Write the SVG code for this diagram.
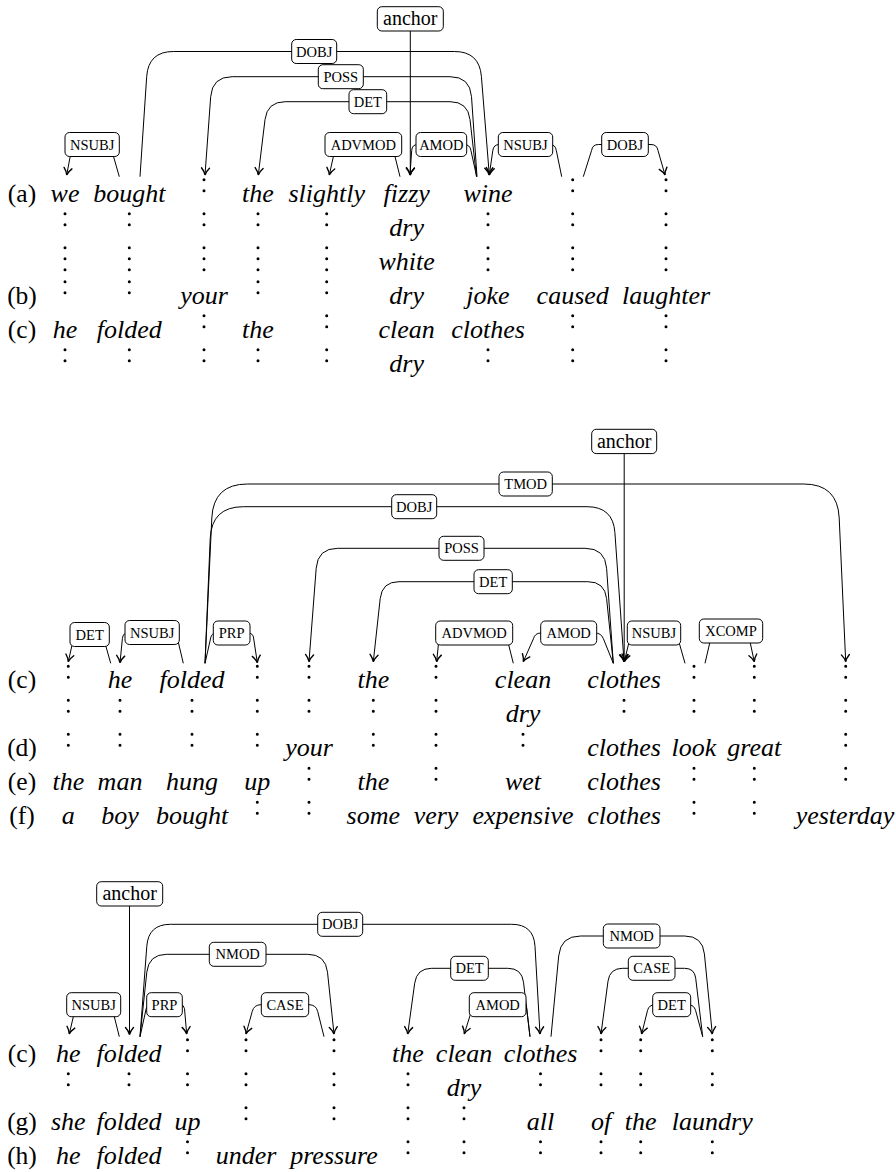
<svg xmlns="http://www.w3.org/2000/svg" width="896" height="1172" viewBox="0 0 896 1172">
<style>
.w{font-family:"Liberation Serif",serif;font-style:italic;font-size:26px;text-anchor:middle;fill:#000}
.lab{font-family:"Liberation Serif",serif;font-size:25.5px;text-anchor:middle;fill:#000}
.box rect{fill:#fff;stroke:#000;stroke-width:1}
.box text{font-family:"Liberation Serif",serif;font-size:14.5px;text-anchor:middle;fill:#000}
.box.anc text{font-size:20px}
.e{fill:none;stroke:#000;stroke-width:1;marker-end:url(#ar)}
.vd{fill:none;stroke:#000;stroke-width:3;stroke-linecap:round;stroke-dasharray:0 11}
</style>
<defs>
<marker id="ar" viewBox="-9 -6 11 12" refX="0" refY="0" markerWidth="11" markerHeight="12" markerUnits="userSpaceOnUse" orient="auto">
<path d="M-7,-4 C-4.5,-1.8 -1.8,-0.4 0,0 C-1.8,0.4 -4.5,1.8 -7,4" fill="none" stroke="#000" stroke-width="1.4" stroke-linecap="round"/>
</marker>
</defs>
<rect width="896" height="1172" fill="#fff"/>

<g id="connectors">
<path class="e" d="M119.3,176.7 L111.8,150.5 Q111,144.5 105,144.5 L78,144.5 Q72,144.5 71.3,150.5 L66.7,175"/>
<path class="e" d="M140,176.7 L146.7,76.5 Q148.4,51.5 173.4,51.5 L454.4,51.5 Q479.4,51.5 481.4,76.4 L489.3,175"/>
<path class="e" d="M477,176.7 L471.5,96.7 Q470.1,76.7 450.1,76.7 L232.2,76.7 Q212.2,76.7 210.7,96.6 L205,175"/>
<path class="e" d="M476.5,176.7 L470,119.6 Q468,101.7 450,101.7 L285.2,101.7 Q267.2,101.7 265,119.6 L258.3,175"/>
<path class="e" d="M400,176.7 L392,144.5 L336,144.5 L329.3,175"/>
<path class="e" d="M476.7,176.7 L470.9,150.4 Q470,144.5 464,144.5 L418,144.5 Q412,144.5 411.7,150.5 L410,175"/>
<path class="e" d="M561.7,176.7 L556.3,150.4 Q555.5,144.5 549.5,144.5 L499.5,144.5 Q493.5,144.5 492.8,150.5 L489.3,175"/>
<path class="e" d="M583.3,176.7 L591.6,150.4 Q592.5,144.5 598.5,144.5 L651,144.5 Q657,144.5 658,150.5 L665,175"/>
<path class="e" d="M410.3,31 L410.3,175"/>

<path class="e" d="M110.7,663.3 L102.6,634.5 L74.4,634.5 L68.3,661.7"/>
<path class="e" d="M183.3,663.3 L176,632.5 L129,632.5 Q123,632.5 122.4,638.5 L120,662.7"/>
<path class="e" d="M205,663.3 L210.7,637.9 Q211.5,633 216.5,633 L248,633 Q253,633 253.6,638 L257.3,662.7"/>
<path class="e" d="M205,663.3 L211.8,518 Q213.4,484 247.4,484 L803.7,484 Q837.7,484 839.2,518 L845.7,661.7"/>
<path class="e" d="M205,663.3 L210.2,538.7 Q211.5,506.7 243.5,506.7 L587.1,506.7 Q613.1,506.7 614.9,532.6 L624,661.7"/>
<path class="e" d="M613.3,663.3 L606.6,568.3 Q605.2,548.3 585.2,548.3 L337.7,548.3 Q317.7,548.3 316.2,568.2 L309,661.7"/>
<path class="e" d="M613.3,663.3 L606.6,598.6 Q604.8,581.7 587.8,581.7 L399,581.7 Q382,581.7 380.2,598.6 L373.3,661.7"/>
<path class="e" d="M513.3,663.3 L505.7,633 L439.5,633 L436.7,661.7"/>
<path class="e" d="M613.3,663.3 L603.3,638.5 Q601,633 595,633 L541,633 Q535,633 533.4,638.8 L523.3,661.7"/>
<path class="e" d="M685,663.3 L676.4,633 L631.2,633 L624.3,661.7"/>
<path class="e" d="M705,663.3 L712.5,631 L747.7,631 L754.3,661.7"/>
<path class="e" d="M624.2,453.3 L624.2,661.7"/>

<path class="e" d="M119.3,1036.7 L111.3,1004.7 L76.1,1004.7 L69.3,1034"/>
<path class="e" d="M140,1036.7 L146.2,1008.6 Q147,1004.7 151,1004.7 L180,1004.7 Q184,1004.7 184.5,1008.7 L186.7,1034"/>
<path class="e" d="M140,1036.7 L146.8,946.2 Q148.4,924.3 170.4,924.3 L511.7,924.3 Q533.7,924.3 535,946.3 L540,1034"/>
<path class="e" d="M140,1036.7 L146.8,972.2 Q148.7,954.3 166.7,954.3 L307.6,954.3 Q325.6,954.3 327.5,972.2 L334,1034"/>
<path class="e" d="M324,1036.7 L317.7,1011.5 Q316,1004.7 309,1004.7 L261,1004.7 Q254,1004.7 252.2,1011.5 L246,1034"/>
<path class="e" d="M530,1036.7 L523.5,982.2 Q521.8,968.3 507.8,968.3 L431.7,968.3 Q416.7,968.3 414.7,983.2 L407.7,1034"/>
<path class="e" d="M530,1036.7 L526.3,1004.7 L473.4,1004.7 L464.3,1034"/>
<path class="e" d="M551,1036.7 L558.7,955.9 Q560.6,936 580.6,936 L684.6,936 Q702.6,936 704.4,953.9 L712.3,1034"/>
<path class="e" d="M702.7,1036.7 L695.7,978.2 Q694.5,968.3 684.5,968.3 L622.7,968.3 Q609.7,968.3 608,981.2 L601,1034"/>
<path class="e" d="M702.7,1036.7 L695.6,1010.5 Q694,1004.7 688,1004.7 L655,1004.7 Q649,1004.7 647.5,1010.5 L641.7,1034"/>
<path class="e" d="M129.5,906 L129.5,1034.5"/>
</g>

<g id="vdots">
<path class="vd" d="M65 213.7v22M65 247.7v22M65 281.7v22M65 349.7v22"/>
<path class="vd" d="M129.3 213.7v22M129.3 247.7v22M129.3 281.7v22M129.3 349.7v22"/>
<path class="vd" d="M204 179.7v22M204 213.7v22M204 247.7v22M204 315.7v22M204 349.7v22"/>
<path class="vd" d="M258 213.7v22M258 247.7v22M258 281.7v22M258 349.7v22"/>
<path class="vd" d="M326.7 213.7v22M326.7 247.7v22M326.7 281.7v22M326.7 315.7v22M326.7 349.7v22"/>
<path class="vd" d="M488 213.7v22M488 247.7v22M488 349.7v22"/>
<path class="vd" d="M572.7 179.7v22M572.7 213.7v22M572.7 247.7v22M572.7 315.7v22M572.7 349.7v22"/>
<path class="vd" d="M666 179.7v22M666 213.7v22M666 247.7v22M666 315.7v22M666 349.7v22"/>

<path class="vd" d="M68.3 666.3v22M68.3 700.3v22M68.3 734.3v22"/>
<path class="vd" d="M120 700.3v22M120 734.3v22"/>
<path class="vd" d="M192 700.3v22M192 734.3v22"/>
<path class="vd" d="M257.3 666.3v22M257.3 700.3v22M257.3 734.3v22M257.3 802.3v22"/>
<path class="vd" d="M309 666.3v22M309 700.3v22M309 768.3v22M309 802.3v22"/>
<path class="vd" d="M373.3 700.3v22M373.3 734.3v22"/>
<path class="vd" d="M436 666.3v22M436 700.3v22M436 734.3v22M436 768.3v22"/>
<path class="vd" d="M523 734.3v22"/>
<path class="vd" d="M624 700.3v22"/>
<path class="vd" d="M694 666.3v22M694 700.3v22M694 768.3v22M694 802.3v22"/>
<path class="vd" d="M754.3 666.3v22M754.3 700.3v22M754.3 768.3v22M754.3 802.3v22"/>
<path class="vd" d="M845.7 666.3v22M845.7 700.3v22M845.7 734.3v22M845.7 768.3v22"/>

<path class="vd" d="M68.3 1073.7v22"/>
<path class="vd" d="M129 1073.7v22"/>
<path class="vd" d="M187.5 1039.7v22M187.5 1073.7v22M187.5 1141.7v22"/>
<path class="vd" d="M246 1039.7v22M246 1073.7v22M246 1107.7v22"/>
<path class="vd" d="M334 1039.7v22M334 1073.7v22M334 1107.7v22"/>
<path class="vd" d="M408 1073.7v22M408 1107.7v22M408 1141.7v22"/>
<path class="vd" d="M464 1107.7v22M464 1141.7v22"/>
<path class="vd" d="M540.5 1073.7v22M540.5 1141.7v22"/>
<path class="vd" d="M601 1039.7v22M601 1073.7v22M601 1141.7v22"/>
<path class="vd" d="M640.7 1039.7v22M640.7 1073.7v22M640.7 1141.7v22"/>
<path class="vd" d="M712.3 1039.7v22M712.3 1073.7v22M712.3 1141.7v22"/>
</g>

<g id="top-anchor" class="box anc"><rect x="377.3" y="6.7" width="66" height="24.3" rx="4.5"/><text x="410.3" y="25">anchor</text></g>
<g id="top-dobj" class="box"><rect x="291.7" y="39.5" width="45" height="24" rx="4.5"/><text x="314.2" y="56.5">DOBJ</text></g>
<g id="top-poss" class="box"><rect x="318.3" y="64.7" width="45" height="24" rx="4.5"/><text x="340.8" y="81.7">POSS</text></g>
<g id="top-det" class="box"><rect x="349" y="89.7" width="37.7" height="24" rx="4.5"/><text x="367.8" y="106.7">DET</text></g>
<g id="top-nsubj1" class="box"><rect x="65" y="132.5" width="54.3" height="24" rx="4.5"/><text x="92.2" y="149.5">NSUBJ</text></g>
<g id="top-advmod" class="box"><rect x="325" y="132.5" width="76.7" height="24" rx="4.5"/><text x="363.3" y="149.5">ADVMOD</text></g>
<g id="top-amod" class="box"><rect x="416" y="132.5" width="50.7" height="24" rx="4.5"/><text x="441.3" y="149.5">AMOD</text></g>
<g id="top-nsubj2" class="box"><rect x="498.3" y="132.5" width="54.4" height="24" rx="4.5"/><text x="525.5" y="149.5">NSUBJ</text></g>
<g id="top-dobj2" class="box"><rect x="601.7" y="132.5" width="46.6" height="24" rx="4.5"/><text x="625" y="149.5">DOBJ</text></g>

<g id="mid-anchor" class="box anc"><rect x="591.7" y="429.3" width="65" height="24.3" rx="4.5"/><text x="624.2" y="447.6">anchor</text></g>
<g id="mid-tmod" class="box"><rect x="499" y="472" width="53.3" height="24" rx="4.5"/><text x="525.7" y="489">TMOD</text></g>
<g id="mid-dobj" class="box"><rect x="391.7" y="494.7" width="45" height="24" rx="4.5"/><text x="414.2" y="511.7">DOBJ</text></g>
<g id="mid-poss" class="box"><rect x="439" y="536.3" width="45" height="24" rx="4.5"/><text x="461.5" y="553.3">POSS</text></g>
<g id="mid-det2" class="box"><rect x="474" y="569.7" width="38.3" height="24" rx="4.5"/><text x="493.2" y="586.7">DET</text></g>
<g id="mid-det1" class="box"><rect x="70" y="622.5" width="39.3" height="24" rx="4.5"/><text x="89.7" y="639.5">DET</text></g>
<g id="mid-nsubj1" class="box"><rect x="125" y="620.5" width="54.3" height="24" rx="4.5"/><text x="152.2" y="637.5">NSUBJ</text></g>
<g id="mid-prp" class="box"><rect x="213.3" y="621" width="36.7" height="24" rx="4.5"/><text x="231.7" y="638">PRP</text></g>
<g id="mid-advmod" class="box"><rect x="435.7" y="621" width="77" height="24" rx="4.5"/><text x="474.2" y="638">ADVMOD</text></g>
<g id="mid-amod" class="box"><rect x="540.7" y="621" width="56" height="24" rx="4.5"/><text x="568.7" y="638">AMOD</text></g>
<g id="mid-nsubj2" class="box"><rect x="627.3" y="621" width="53.4" height="24" rx="4.5"/><text x="654" y="638">NSUBJ</text></g>
<g id="mid-xcomp" class="box"><rect x="699.3" y="619" width="63.4" height="24" rx="4.5"/><text x="731" y="636">XCOMP</text></g>

<g id="bot-anchor" class="box anc"><rect x="96.7" y="881.7" width="66" height="24.3" rx="4.5"/><text x="129.7" y="900">anchor</text></g>
<g id="bot-dobj" class="box"><rect x="317.7" y="912.3" width="45" height="24" rx="4.5"/><text x="340.2" y="929.3">DOBJ</text></g>
<g id="bot-nmod1" class="box"><rect x="209.3" y="942.3" width="56.7" height="24" rx="4.5"/><text x="237.7" y="959.3">NMOD</text></g>
<g id="bot-nmod2" class="box"><rect x="603.3" y="924" width="56.7" height="24" rx="4.5"/><text x="631.7" y="941">NMOD</text></g>
<g id="bot-det1" class="box"><rect x="450.7" y="956.3" width="37.6" height="24" rx="4.5"/><text x="469.5" y="973.3">DET</text></g>
<g id="bot-case2" class="box"><rect x="628.3" y="956.3" width="46.7" height="24" rx="4.5"/><text x="651.7" y="973.3">CASE</text></g>
<g id="bot-nsubj" class="box"><rect x="66.7" y="992.7" width="54" height="24" rx="4.5"/><text x="93.7" y="1009.7">NSUBJ</text></g>
<g id="bot-prp" class="box"><rect x="146.7" y="992.7" width="35.6" height="24" rx="4.5"/><text x="164.5" y="1009.7">PRP</text></g>
<g id="bot-case1" class="box"><rect x="261.3" y="992.7" width="47.4" height="24" rx="4.5"/><text x="285" y="1009.7">CASE</text></g>
<g id="bot-amod" class="box"><rect x="469.3" y="992.7" width="56.7" height="24" rx="4.5"/><text x="497.7" y="1009.7">AMOD</text></g>
<g id="bot-det2" class="box"><rect x="652.7" y="992.7" width="38" height="24" rx="4.5"/><text x="671.7" y="1009.7">DET</text></g>

<g id="labels">
<text class="lab" x="22" y="201.7">(a)</text>
<text class="lab" x="22" y="303.7">(b)</text>
<text class="lab" x="22" y="337.7">(c)</text>
<text class="lab" x="22" y="688.3">(c)</text>
<text class="lab" x="22" y="756.3">(d)</text>
<text class="lab" x="22" y="790.3">(e)</text>
<text class="lab" x="22" y="824.3">(f)</text>
<text class="lab" x="22" y="1061.7">(c)</text>
<text class="lab" x="22" y="1129.7">(g)</text>
<text class="lab" x="22" y="1163.7">(h)</text>
</g>

<g id="words-top">
<g id="t-we"><text class="w" x="65" y="201.7">we</text></g>
<g id="t-bought"><text class="w" x="129.3" y="201.7">bought</text></g>
<g id="t-the1"><text class="w" x="258" y="201.7">the</text></g>
<g id="t-slightly"><text class="w" x="326.7" y="201.7">slightly</text></g>
<g id="t-fizzy"><text class="w" x="406.7" y="201.7">fizzy</text></g>
<g id="t-wine"><text class="w" x="488" y="201.7">wine</text></g>
<g id="t-dry1"><text class="w" x="406.7" y="235.7">dry</text></g>
<g id="t-white"><text class="w" x="406.7" y="269.7">white</text></g>
<g id="t-your"><text class="w" x="204" y="303.7">your</text></g>
<g id="t-dry2"><text class="w" x="406.7" y="303.7">dry</text></g>
<g id="t-joke"><text class="w" x="488" y="303.7">joke</text></g>
<g id="t-caused"><text class="w" x="572.7" y="303.7">caused</text></g>
<g id="t-laughter"><text class="w" x="666" y="303.7">laughter</text></g>
<g id="t-he"><text class="w" x="65" y="337.7">he</text></g>
<g id="t-folded"><text class="w" x="129.3" y="337.7">folded</text></g>
<g id="t-the2"><text class="w" x="258" y="337.7">the</text></g>
<g id="t-clean"><text class="w" x="406.7" y="337.7">clean</text></g>
<g id="t-clothes"><text class="w" x="488" y="337.7">clothes</text></g>
<g id="t-dry3"><text class="w" x="406.7" y="371.7">dry</text></g>
</g>

<g id="words-mid">
<g id="m-he"><text class="w" x="120" y="688.3">he</text></g>
<g id="m-folded"><text class="w" x="192" y="688.3">folded</text></g>
<g id="m-the1"><text class="w" x="373.3" y="688.3">the</text></g>
<g id="m-clean"><text class="w" x="523" y="688.3">clean</text></g>
<g id="m-clothes1"><text class="w" x="624" y="688.3">clothes</text></g>
<g id="m-dry"><text class="w" x="523" y="722.3">dry</text></g>
<g id="m-your"><text class="w" x="309" y="756.3">your</text></g>
<g id="m-clothes2"><text class="w" x="624" y="756.3">clothes</text></g>
<g id="m-look"><text class="w" x="694" y="756.3">look</text></g>
<g id="m-great"><text class="w" x="754.3" y="756.3">great</text></g>
<g id="m-the2"><text class="w" x="68.3" y="790.3">the</text></g>
<g id="m-man"><text class="w" x="120" y="790.3">man</text></g>
<g id="m-hung"><text class="w" x="192" y="790.3">hung</text></g>
<g id="m-up"><text class="w" x="257.3" y="790.3">up</text></g>
<g id="m-the3"><text class="w" x="373.3" y="790.3">the</text></g>
<g id="m-wet"><text class="w" x="523" y="790.3">wet</text></g>
<g id="m-clothes3"><text class="w" x="624" y="790.3">clothes</text></g>
<g id="m-a"><text class="w" x="68.3" y="824.3">a</text></g>
<g id="m-boy"><text class="w" x="120" y="824.3">boy</text></g>
<g id="m-bought"><text class="w" x="192" y="824.3">bought</text></g>
<g id="m-some"><text class="w" x="373.3" y="824.3">some</text></g>
<g id="m-very"><text class="w" x="436" y="824.3">very</text></g>
<g id="m-expensive"><text class="w" x="523" y="824.3">expensive</text></g>
<g id="m-clothes4"><text class="w" x="624" y="824.3">clothes</text></g>
<g id="m-yesterday"><text class="w" x="845" y="824.3">yesterday</text></g>
</g>

<g id="words-bot">
<g id="b-he1"><text class="w" x="68.3" y="1061.7">he</text></g>
<g id="b-folded1"><text class="w" x="129" y="1061.7">folded</text></g>
<g id="b-the1"><text class="w" x="408" y="1061.7">the</text></g>
<g id="b-clean"><text class="w" x="464" y="1061.7">clean</text></g>
<g id="b-clothes"><text class="w" x="540.5" y="1061.7">clothes</text></g>
<g id="b-dry"><text class="w" x="464" y="1095.7">dry</text></g>
<g id="b-she"><text class="w" x="68.3" y="1129.7">she</text></g>
<g id="b-folded2"><text class="w" x="129" y="1129.7">folded</text></g>
<g id="b-up"><text class="w" x="187.5" y="1129.7">up</text></g>
<g id="b-all"><text class="w" x="540.5" y="1129.7">all</text></g>
<g id="b-of"><text class="w" x="601" y="1129.7">of</text></g>
<g id="b-the2"><text class="w" x="640.7" y="1129.7">the</text></g>
<g id="b-laundry"><text class="w" x="712.3" y="1129.7">laundry</text></g>
<g id="b-he2"><text class="w" x="68.3" y="1163.7">he</text></g>
<g id="b-folded3"><text class="w" x="129" y="1163.7">folded</text></g>
<g id="b-under"><text class="w" x="246" y="1163.7">under</text></g>
<g id="b-pressure"><text class="w" x="334" y="1163.7">pressure</text></g>
</g>
</svg>
